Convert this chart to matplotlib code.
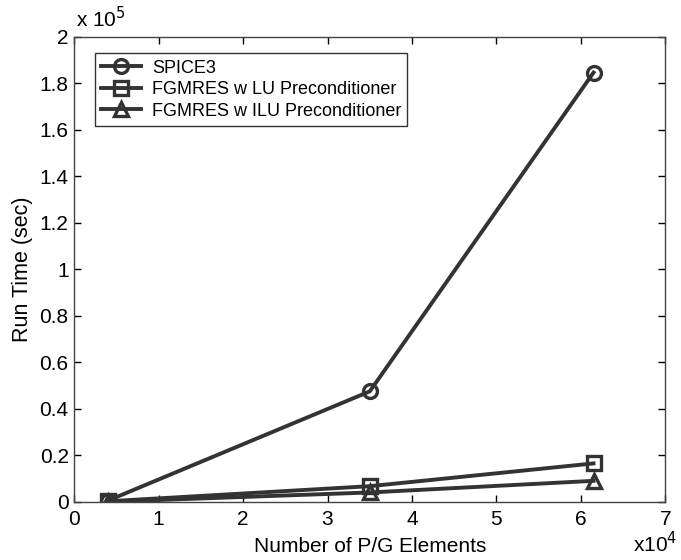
import matplotlib
matplotlib.use('Agg')
import matplotlib.pyplot as plt

plt.rcParams['font.family'] = ['Liberation Sans', 'DejaVu Sans']

# x in units of 1e4 elements, y in units of 1e5 sec
elements = [0.4, 3.5, 6.15]
spice3 = [0.005, 0.475, 1.847]
fgmres_lu = [0.002, 0.067, 0.165]
fgmres_ilu = [0.0, 0.04, 0.09]

xticks = [0, 1, 2, 3, 4, 5, 6, 7]
yticks = [0, 0.2, 0.4, 0.6, 0.8, 1, 1.2, 1.4, 1.6, 1.8, 2]
ytick_labels = ['0', '0.2', '0.4', '0.6', '0.8', '1', '1.2', '1.4', '1.6', '1.8', '2']

col = '#333333'

fig = plt.figure(figsize=(6.81, 5.6), dpi=100)
ax = fig.add_axes([0.109, 0.104, 0.868, 0.830])

kw = dict(color=col, lw=2.8, markersize=10, markerfacecolor='none',
          markeredgewidth=2.4, markeredgecolor=col)
ax.plot(elements, spice3, marker='o', label='SPICE3', **kw)
ax.plot(elements, fgmres_lu, marker='s', label='FGMRES w LU Preconditioner', **kw)
ax.plot(elements, fgmres_ilu, marker='^', label='FGMRES w ILU Preconditioner', **kw)

ax.set_xlim(0, 7)
ax.set_ylim(0, 2)
ax.set_xticks(xticks)
ax.set_yticks(yticks)
ax.set_yticklabels(ytick_labels)
ax.tick_params(direction='in', top=True, right=True, length=5, width=1,
               labelsize=15, colors='black')
ax.tick_params(axis='x', pad=6)
ax.tick_params(axis='y', pad=4)
for s in ax.spines.values():
    s.set_linewidth(1.0)
    s.set_color('#444444')

ax.set_xlabel('Number of P/G Elements', fontsize=15, labelpad=6)
ax.set_ylabel('Run Time (sec)', fontsize=15.5, labelpad=5)

fig.text(0.112, 0.945, r'x 10$^{5}$', fontsize=15, ha='left', va='bottom')
fig.text(0.995, 0.006, r'x10$^{4}$', fontsize=15, ha='right', va='bottom')

leg = ax.legend(loc='upper left', bbox_to_anchor=(0.035, 0.965), fontsize=13,
                frameon=True, fancybox=False, borderpad=0.35, labelspacing=0.25,
                handlelength=2.2, handletextpad=0.6, borderaxespad=0)
leg.get_frame().set_edgecolor('black')
leg.get_frame().set_linewidth(1.0)

fig.savefig('out.png', dpi=100)
